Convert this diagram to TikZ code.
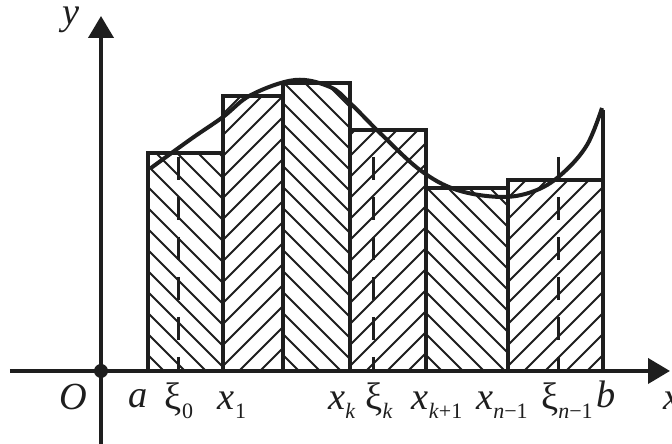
\documentclass[tikz,border=0pt]{standalone}
\usepackage{fontspec}
\setmainfont{Liberation Serif}
\usepackage{tikz}
\usetikzlibrary{arrows.meta, positioning, calc}
\definecolor{ink}{HTML}{1E1E1E}
\newcommand\lowsub[1]{\raisebox{-2.6pt}{\fontsize{6.6}{7}\selectfont #1}}
\tikzset{
  % Axes
  axis/.style={line width=1.2pt, ink, -{Triangle[length=6.6pt, width=7.5pt]}},
  % Rectangles and hatching
  bar/.style={draw=ink, line width=1pt},
  hatch/.style={draw=ink, line width=0.6pt},
  % Sample points
  tag/.style={draw=ink, line width=0.9pt, dash pattern=on 6.9pt off 5.1pt},
  % Curve
  graph/.style={draw=ink, line width=1.2pt},
  % Labels under the axis
  tick/.style={font=\fontsize{11.5}{13}\selectfont, text=ink, anchor=base, inner sep=0pt},
}

\begin{document}
\begin{tikzpicture}[x=0.3pt, y=0.3pt]
\useasboundingbox (-101,-73) rectangle (571,371);

% ====================================================================
% Hatched rectangles: left/right/height/direction
% ====================================================================
\foreach \xa/\xb/\h/\d in {47/122/218/-1, 122/182/275/1, 182/249/288/-1,
                           249/325/241/1, 325/407/183/-1, 407/502/191/1} {
  \begin{scope}
    \clip (\xa,0) rectangle (\xb,\h);
    \foreach \i in {0,...,36} {
      \draw[hatch] ({\xa-320+21*\i},0) -- ++(\d*330,330);
    }
  \end{scope}
  \draw[bar] (\xa,0) rectangle (\xb,\h);
}
\draw[bar] (502,0) -- (502,261);

% ====================================================================
% Dashed ordinates at the sample points
% ====================================================================
\foreach \xi in {78, 272, 457} {
  \draw[tag] (\xi,214) -- (\xi,0);
}

% ====================================================================
% Curve y = f(x)
% ====================================================================
\draw[graph] plot[smooth, tension=0.6] coordinates {
  (50,203) (90,232) (122,254) (150,276) (194,291) (229,284) (249,268)
  (279,238) (319,201) (356,181) (402,174) (436,181) (462,198)
  (486,226) (501,263)};

% ====================================================================
% Axes
% ====================================================================
\draw[axis] (-91,0) -- (569,0);
\draw[axis] (0,-73) -- (0,355);
\fill[ink] (0,0) circle (7);

% ====================================================================
% Labels
% ====================================================================
\node[tick] (lO)   at (-28,-39) {\textit{O}};
\node[tick] (la)   at (37,-37)  {\textit{a}};
\node[tick] (lxi0) at (78,-39)  {ξ\lowsub{0}};
\node[tick] (lx1)  at (131,-39) {\textit{x}\lowsub{1}};
\node[tick] (lxk)  at (241,-39) {\textit{x}\lowsub{\textit{k}}};
\node[tick] (lxik) at (278,-39) {ξ\lowsub{\textit{k}}};
\node[tick] (lxk1) at (336,-39) {\textit{x}\lowsub{\textit{k}+1}};
\node[tick] (lxn1) at (401,-39) {\textit{x}\lowsub{\textit{n}−1}};
\node[tick] (lxin) at (466,-39) {ξ\lowsub{\textit{n}−1}};
\node[tick] (lb)   at (505,-37) {\textit{b}};
\node[tick, anchor=base west] (lx) at (562,-39) {\textit{x}};
\node[tick] (ly) at (-30,346) {\textit{y}};

\end{tikzpicture}
\end{document}
